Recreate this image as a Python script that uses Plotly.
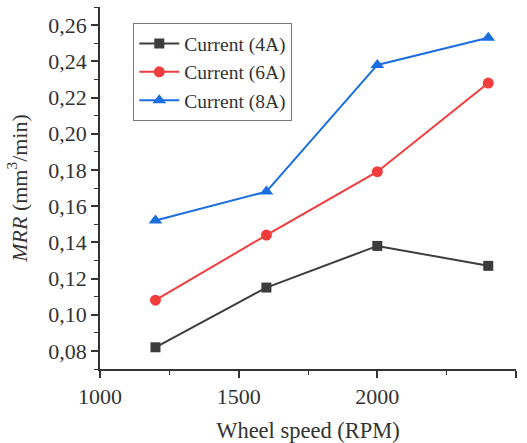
import plotly.graph_objects as go

# Wheel speed (RPM) and material removal rate (mm^3/min) per current setting
wheel_speed = [1200, 1600, 2000, 2400]
mrr_4a = [0.082, 0.115, 0.138, 0.127]
mrr_6a = [0.108, 0.144, 0.179, 0.228]
mrr_8a = [0.152, 0.168, 0.238, 0.253]
series_names = ["Current (4A)", "Current (6A)", "Current (8A)"]

styles = [
    dict(color="#3c3c3c", symbol="square", size=10),
    dict(color="#f03c3c", symbol="circle", size=11),
    dict(color="#1a6ee0", symbol="triangle-up", size=12),
]

fig = go.Figure()
for name, vals, st in zip(series_names, [mrr_4a, mrr_6a, mrr_8a], styles):
    fig.add_trace(go.Scatter(
        x=wheel_speed, y=vals, name=name, mode="lines+markers",
        line=dict(color=st["color"], width=2),
        marker=dict(color=st["color"], symbol=st["symbol"], size=st["size"]),
    ))

font_family = "Liberation Serif"
axis_common = dict(
    showline=True, linecolor="#333", linewidth=1.5, mirror=False,
    ticks="outside", ticklen=7, tickwidth=1.5, tickcolor="#333",
    showgrid=False, zeroline=False, automargin=False,
    tickfont=dict(family=font_family, size=22, color="#333"),
)

fig.update_layout(
    width=527, height=443,
    margin=dict(l=100, r=11, t=7, b=74),
    paper_bgcolor="white", plot_bgcolor="white",
    separators=",.",
    font=dict(family=font_family, color="#333"),
    xaxis=dict(
        range=[1000, 2500], tickvals=[1000, 1500, 2000, 2500],
        minor=dict(ticks="outside", ticklen=4, tickwidth=1.2, tickcolor="#333", dtick=250, tick0=1000),
        title=dict(text="Wheel speed (RPM)", font=dict(family=font_family, size=22.5, color="#333")),
        **axis_common,
    ),
    yaxis=dict(
        range=[0.07, 0.27], tickvals=[0.08, 0.10, 0.12, 0.14, 0.16, 0.18, 0.20, 0.22, 0.24, 0.26],
        tickformat=".2f",
        minor=dict(ticks="outside", ticklen=4, tickwidth=1.2, tickcolor="#333", dtick=0.01, tick0=0.07),
        title=dict(text="<i>MRR</i> (mm<sup>3</sup>/min)", font=dict(family=font_family, size=22, color="#333")),
        **axis_common,
    ),
    legend=dict(
        x=0.08, y=0.955, xanchor="left", yanchor="top",
        bgcolor="white", bordercolor="#777", borderwidth=1,
        font=dict(family=font_family, size=19.5, color="#333"),
        tracegroupgap=0, itemwidth=40,
    ),
)

fig.write_html("out.html")
